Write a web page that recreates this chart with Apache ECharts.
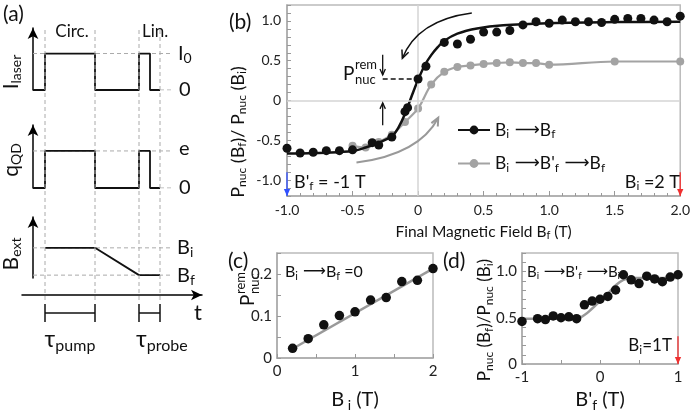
<!DOCTYPE html>
<html><head><meta charset="utf-8">
<script src="https://cdn.jsdelivr.net/npm/echarts@6/dist/echarts.min.js"></script>
<style>html,body{margin:0;padding:0;background:#fff}#c{width:693px;height:413px}</style>
</head><body><div id="c"></div>
<script>
// ---------- Panel (a): schematic timing traces ----------
const tPulse = [0, 12, 12, 62, 62, 106, 106, 117, 117, 127];
const laserLevel = [0, 0, 1, 1, 0, 0, 1, 1, 0, 0];
const qdLevel = [0, 0, 1, 1, 0, 0, 1, 1, 0, 0];
const tField = [12, 62, 106, 127];
const fieldLevel = [0.84, 0.84, 0.08, 0.08];
const tGuides = [12, 62, 106, 127];
const guideEnd = 140;

// ---------- Panel (b) ----------
const bBlackX = [-1.0,-0.9,-0.8,-0.7,-0.6,-0.5,-0.35,-0.3,-0.2,-0.1,-0.08,0,0.06,0.2,0.3,0.4,0.5,0.6,0.7,0.8,0.9,1.0,1.1,1.2,1.3,1.4,1.5,1.6,1.7,1.8,1.9,2.0];
const bBlackY = [-0.60,-0.66,-0.65,-0.63,-0.63,-0.62,-0.53,-0.56,-0.46,-0.14,-0.09,0.27,0.43,0.73,0.71,0.77,0.86,0.86,0.88,0.95,0.99,0.97,1.01,0.99,0.99,0.98,1.02,1.03,1.03,1.01,0.99,1.06];
const bFitX = [-1.0,-0.7,-0.5,-0.4,-0.3,-0.2,-0.15,-0.1,-0.05,0,0.05,0.1,0.15,0.2,0.3,0.45,0.65,1.0,1.5,2.0];
const bFitY = [-0.665,-0.655,-0.635,-0.59,-0.53,-0.45,-0.34,-0.17,0.05,0.26,0.44,0.57,0.67,0.75,0.84,0.905,0.945,0.97,0.985,0.99];
const bGrayX = [-0.5,-0.4,-0.3,-0.2,-0.1,0,0.1,0.2,0.3,0.4,0.5,0.6,0.7,0.8,0.9,1.0,1.5,2.0];
const bGrayY = [-0.57,-0.59,-0.52,-0.43,-0.27,-0.10,0.20,0.36,0.42,0.44,0.46,0.47,0.48,0.47,0.47,0.45,0.49,0.49];

// ---------- Panel (c) ----------
const cX = [0.2,0.4,0.6,0.8,1.0,1.2,1.4,1.6,1.8,2.0];
const cY = [0.023,0.046,0.079,0.101,0.110,0.138,0.144,0.182,0.185,0.213];
const cFitX = [0.2, 2.0];
const cFitY = [0.022, 0.213];

// ---------- Panel (d) ----------
const dX = [-1.0,-0.8,-0.7,-0.6,-0.5,-0.4,-0.3,-0.2,-0.1,0,0.1,0.2,0.3,0.4,0.5,0.6,0.7,0.8,0.9,1.0];
const dY = [0.46,0.49,0.48,0.52,0.50,0.51,0.49,0.64,0.68,0.70,0.73,0.80,0.965,0.91,0.87,0.95,0.92,0.89,0.94,0.965];
const dFitX = [-1.0,-0.3,-0.2,-0.1,0,0.1,0.2,0.3,0.4,1.0];
const dFitY = [0.49,0.49,0.53,0.60,0.68,0.76,0.85,0.91,0.93,0.93];

const zip = (xs, ys) => xs.map((x, i) => [x, ys[i]]);
const F = "Lato, 'Open Sans', 'DejaVu Sans', sans-serif";
const INK = '#111';

function rich(fs, color) {
  color = color || INK;
  const ss = Math.round(fs * 0.68);
  return {
    n: {fontSize: fs, fontFamily: F, color: color, fill: color},
    s: {fontSize: ss, fontFamily: F, color: color, fill: color, padding: [Math.round(fs * 0.5), 0, 0, 0]},
    u: {fontSize: ss, fontFamily: F, color: color, fill: color, padding: [0, 0, Math.round(fs * 0.5), 0]},
    a: {fontSize: fs, fontFamily: 'DejaVu Sans', color: color, fill: color}
  };
}

const chart = echarts.init(document.getElementById('c'), null, {renderer: 'canvas'});

const hiddenX = (g) => ({gridIndex: g, type: 'value', min: 0, max: 169, show: false});
const arrowY = (g) => ({gridIndex: g, type: 'value', min: 0, max: 1.7,
  axisLine: {show: true, onZero: false, symbol: ['none', 'arrow'], symbolSize: [8, 11], lineStyle: {color: '#000', width: 1.5}},
  axisTick: {show: false}, axisLabel: {show: false}, splitLine: {show: false}});
const guideSeries = (g, lv, from) => ({type: 'line', xAxisIndex: g, yAxisIndex: g, data: [[from, lv], [guideEnd, lv]],
  symbol: 'none', silent: true, z: 1, lineStyle: {type: [4, 3], color: '#aaa', width: 1}});

const tickLab = {fontSize: 14, color: '#222', fontFamily: F};
const axLine = {onZero: false, lineStyle: {color: '#aaa', width: 1.5}};
const tk = {inside: true, length: 4, lineStyle: {color: '#999'}};

const fmtB_y = v => { const r = Math.round(v * 10); return r % 5 ? '' : (r === 0 ? '0' : (r / 10).toFixed(1)); };
const fmtB_x = v => { const r = Math.round(v * 10); return r === 0 ? '0' : (r / 10).toFixed(1); };
const fmtC_y = v => { const r = Math.round(v * 100); return r % 10 ? '' : (r === 0 ? '0' : (r / 100).toFixed(1)); };
const fmtD_y = v => { const r = Math.round(v * 10); return r % 5 ? '' : (r === 0 ? '0' : (r / 10).toFixed(1)); };

const L1 = 'Bi-Bf', L2 = 'Bi-Bf\'-Bf';
const legendText = {
  [L1]: '{n|B}{s|i}{a| \u27F6}{n|B}{s|f}',
  [L2]: "{n|B}{s|i}{a| \u27F6}{n|B'}{s|f}{a| \u27F6}{n|B}{s|f}"
};

const option = {
  animation: false,
  backgroundColor: '#fff',
  grid: [
    {left: 33, top: 28, width: 169, height: 62},
    {left: 33, top: 125, width: 169, height: 63},
    {left: 33, top: 217, width: 169, height: 61},
    {left: 22, top: 290, width: 180, height: 5},
    {left: 287, top: 5, width: 396, height: 191, show: true, borderColor: '#bbb', borderWidth: 1.5},
    {left: 277, top: 253, width: 156, height: 115, show: true, borderColor: '#bbb', borderWidth: 1.5},
    {left: 522, top: 253, width: 156, height: 116, show: true, borderColor: '#bbb', borderWidth: 1.5}
  ],
  xAxis: [
    hiddenX(0), hiddenX(1), hiddenX(2),
    {gridIndex: 3, type: 'value', min: 0, max: 180,
      axisLine: {show: true, onZero: false, symbol: ['none', 'arrow'], symbolSize: [8, 11], lineStyle: {color: '#000', width: 1.5}},
      axisTick: {show: false}, axisLabel: {show: false}, splitLine: {show: false}},
    {gridIndex: 4, type: 'value', min: -1, max: 2, interval: 0.5, axisLine: axLine, axisTick: {inside: true, length: 5, lineStyle: {color: '#999'}},
      minorTick: {show: true, splitNumber: 5, length: 3, lineStyle: {color: '#999'}}, splitLine: {show: false},
      axisLabel: Object.assign({formatter: fmtB_x, margin: 7}, tickLab),
      name: '{n|Final Magnetic Field B}{s|f}{n| (T)}', nameLocation: 'middle', nameGap: 26,
      nameTextStyle: {rich: rich(15.5)}},
    {gridIndex: 5, type: 'value', min: 0, max: 2, interval: 1, axisLine: axLine, axisTick: tk,
      minorTick: {show: true, splitNumber: 2, length: 4, lineStyle: {color: '#999'}}, splitLine: {show: false},
      axisLabel: Object.assign({margin: 6}, tickLab, {fontSize: 15}),
      name: '{n|B}{s| i}{n| (T)}', nameLocation: 'middle', nameGap: 30, nameTextStyle: {rich: rich(20)}},
    {gridIndex: 6, type: 'value', min: -1, max: 1, interval: 1, axisLine: axLine, axisTick: tk,
      minorTick: {show: true, splitNumber: 2, length: 4, lineStyle: {color: '#999'}}, splitLine: {show: false},
      axisLabel: Object.assign({margin: 6}, tickLab, {fontSize: 15}),
      name: "{n|B'}{s|f}{n| (T)}", nameLocation: 'middle', nameGap: 24, nameTextStyle: {rich: rich(20)}}
  ],
  yAxis: [
    arrowY(0), arrowY(1), arrowY(2),
    {gridIndex: 3, type: 'value', min: 0, max: 1, show: false},
    {gridIndex: 4, type: 'value', min: -1.2, max: 1.2, interval: 0.1, axisLine: axLine, axisTick: tk, splitLine: {show: false},
      axisLabel: Object.assign({formatter: fmtB_y, margin: 6}, tickLab)},
    {gridIndex: 5, type: 'value', min: 0, max: 0.25, interval: 0.05, axisLine: axLine, axisTick: tk, splitLine: {show: false},
      axisLabel: Object.assign({formatter: fmtC_y, margin: 5}, tickLab, {fontSize: 15})},
    {gridIndex: 6, type: 'value', min: 0, max: 1.2, interval: 0.1, axisLine: axLine, axisTick: tk, splitLine: {show: false},
      axisLabel: Object.assign({formatter: fmtD_y, margin: 5}, tickLab, {fontSize: 15})}
  ],
  legend: {
    data: [L1, L2], orient: 'vertical', left: 452, top: 116, itemWidth: 32, itemHeight: 11, itemGap: 14,
    formatter: n => legendText[n], textStyle: {rich: rich(17.5)}, selectedMode: false
  },
  series: [
    guideSeries(0, 1, 0), guideSeries(0, 0, 127),
    guideSeries(1, 1, 0), guideSeries(1, 0, 127),
    guideSeries(2, fieldLevel[0], 0), guideSeries(2, fieldLevel[3], 0),
    {type: 'line', xAxisIndex: 0, yAxisIndex: 0, data: zip(tPulse, laserLevel), symbol: 'none', lineStyle: {color: INK, width: 1.8}, z: 3},
    {type: 'line', xAxisIndex: 1, yAxisIndex: 1, data: zip(tPulse, qdLevel), symbol: 'none', lineStyle: {color: INK, width: 1.8}, z: 3},
    {type: 'line', xAxisIndex: 2, yAxisIndex: 2, data: zip(tField, fieldLevel), symbol: 'none', lineStyle: {color: INK, width: 1.8}, z: 3},
    // panel b reference lines
    {type: 'line', xAxisIndex: 4, yAxisIndex: 4, data: [], z: 1,
      markLine: {symbol: 'none', silent: true, label: {show: false}, lineStyle: {type: 'solid', color: '#d4d4d4', width: 1.5},
        data: [{xAxis: 0}, {yAxis: 0}]}},
    {name: L2, type: 'line', xAxisIndex: 4, yAxisIndex: 4, data: zip(bGrayX, bGrayY), smooth: 0.35,
      symbol: 'circle', symbolSize: 8, itemStyle: {color: '#a3a3a3'}, lineStyle: {color: '#a3a3a3', width: 2.2}, z: 3},
    {name: L1, type: 'line', xAxisIndex: 4, yAxisIndex: 4, data: zip(bFitX, bFitY), smooth: 0.35,
      symbol: 'circle', showSymbol: false, symbolSize: 9, itemStyle: {color: INK}, lineStyle: {color: INK, width: 2.5}, z: 4},
    {type: 'scatter', xAxisIndex: 4, yAxisIndex: 4, data: zip(bBlackX, bBlackY), symbolSize: 9, itemStyle: {color: INK, opacity: 1}, z: 5},
    // panel c
    {type: 'line', xAxisIndex: 5, yAxisIndex: 5, data: zip(cFitX, cFitY), symbol: 'none', lineStyle: {color: '#999', width: 2.5}, z: 3},
    {type: 'scatter', xAxisIndex: 5, yAxisIndex: 5, data: zip(cX, cY), symbolSize: 9.5, itemStyle: {color: INK, opacity: 1}, z: 5},
    // panel d
    {type: 'line', xAxisIndex: 6, yAxisIndex: 6, data: zip(dFitX, dFitY), smooth: 0.4, symbol: 'none', lineStyle: {color: '#999', width: 2.5}, z: 3},
    {type: 'scatter', xAxisIndex: 6, yAxisIndex: 6, data: zip(dX, dY), symbolSize: 9.5, itemStyle: {color: INK, opacity: 1}, z: 5}
  ]
};
chart.setOption(option);

// ---------- annotations anchored via the axes ----------
const P = (g, pt) => chart.convertToPixel({xAxisIndex: g, yAxisIndex: g}, pt);
const G = [];
function txt(text, x, y, fs, align, rot, color) {
  const r = rich(fs, color);
  G.push({type: 'text', x: x, y: y, rotation: rot || 0, z: 50,
    style: {text: text, rich: r, align: align || 'left', verticalAlign: 'middle', font: fs + 'px ' + F, fill: color || INK}});
}
function seg(p0, p1, color, w, dash) {
  G.push({type: 'line', z: 40, shape: {x1: p0[0], y1: p0[1], x2: p1[0], y2: p1[1]},
    style: {stroke: color, lineWidth: w, lineDash: dash || null}});
}
function head(tip, from, color, size, filled, w) {
  const dx = tip[0] - from[0], dy = tip[1] - from[1];
  const len = Math.hypot(dx, dy), ux = dx / len, uy = dy / len;
  const bx = tip[0] - ux * size, by = tip[1] - uy * size;
  const half = size * 0.45;
  const l = [bx - uy * half, by + ux * half], r = [bx + uy * half, by - ux * half];
  if (filled) G.push({type: 'polygon', z: 41, shape: {points: [tip, l, r]}, style: {fill: color}});
  else G.push({type: 'polyline', z: 41, shape: {points: [l, tip, r]}, style: {stroke: color, lineWidth: w || 1.5, fill: null}});
}
function arrow(p0, p1, color, w, size, filled) { seg(p0, p1, color, w); head(p1, p0, color, size, filled, w); }
function curve(p0, c, p1, color, w, size) {
  G.push({type: 'bezierCurve', z: 40, shape: {x1: p0[0], y1: p0[1], cpx1: c[0], cpy1: c[1], x2: p1[0], y2: p1[1]},
    style: {stroke: color, lineWidth: w, fill: null}});
  head(p1, c, color, size, false, w);
}

// Panel (a)
txt('(a)', 3, 14, 21);
tGuides.forEach(t => { const x = P(0, [t, 0])[0]; seg([x, 30], [x, 301], '#aaa', 1, [4, 3]); });
const xr = P(0, [guideEnd + 4, 0])[0];
txt('{n|I}{s|0}', xr + 1, P(0, [0, 1])[1], 20);
txt('0', xr + 2, P(0, [0, 0])[1], 20);
txt('e', xr + 2, P(1, [0, 1])[1] - 2, 20);
txt('0', xr + 2, P(1, [0, 0])[1], 20);
txt('{n|B}{s|i}', xr, P(2, [0, fieldLevel[0]])[1], 20);
txt('{n|B}{s|f}', xr, P(2, [0, fieldLevel[3]])[1], 20);
txt('Circ.', P(0, [(tGuides[0] + tGuides[1]) / 2 + 2, 0])[0], 32, 17, 'center');
txt('Lin.', P(0, [tGuides[2] + 3, 0])[0], 32, 17, 'left');
txt('{n|I}{s|laser}', 11, 72, 21, 'center', Math.PI / 2);
txt('{n|q}{s|QD}', 11, 160, 21, 'center', Math.PI / 2);
txt('{n|B}{s|ext}', 11, 254, 21, 'center', Math.PI / 2);
[[tGuides[0], tGuides[1]], [tGuides[2], tGuides[3]]].forEach(([a, b]) => {
  const xa = P(0, [a, 0])[0], xb = P(0, [b, 0])[0];
  seg([xa, 313], [xb, 313], INK, 1.5); seg([xa, 304], [xa, 322], INK, 1.5); seg([xb, 304], [xb, 322], INK, 1.5);
});
txt('{n|\u03C4}{s|pump}', P(0, [(tGuides[0] + tGuides[1]) / 2, 0])[0], 340, 23, 'center');
txt('{n|\u03C4}{s|probe}', P(0, [tGuides[2] - 3, 0])[0], 340, 23, 'left');
txt('t', 198, 313, 22, 'center');

// Panel (b)
txt('(b)', 229, 22, 21);
txt('{n|P}{s|nuc}{n| (B}{s|f}{n|)/ P}{s|nuc}{n| (B}{s|i}{n|)}', 238, 132, 18, 'center', Math.PI / 2);
txt('P', 343, 74, 19);
txt('rem', 355, 65, 13);
txt('nuc', 355, 80, 13);
arrow(P(4, [-0.27, 0.575]), P(4, [-0.27, 0.32]), INK, 1.3, 6, false);
seg(P(4, [-0.27, 0.27]), P(4, [0, 0.27]), INK, 1.3, [5, 3]);
arrow(P(4, [-0.27, -0.31]), P(4, [-0.27, -0.03]), INK, 1.3, 6, false);
curve(P(4, [0.41, 1.1]), P(4, [-0.005, 1.01]), P(4, [-0.12, 0.53]), INK, 1.5, 8);
curve(P(4, [-0.47, -0.78]), P(4, [0.01, -0.675]), P(4, [0.154, -0.216]), '#999', 2, 8);
txt("{n|B'}{s|f}{n| = -1 T}", 294, 182, 18);
txt('{n|B}{s|i}{n| =2 T}', 680, 182, 18, 'right');
arrow(P(4, [-1, -0.9]), P(4, [-1, -1.2]), '#3050ff', 1.3, 7, true);
arrow(P(4, [2, -0.9]), P(4, [2, -1.2]), '#f03030', 1.3, 7, true);

// Panel (c)
txt('(c)', 228, 261, 21);
txt('{n|B}{s|i}{a| \u27F6}{n|B}{s|f}{n| =0}', 285, 272, 16);
G.push({type: 'group', x: 248, y: 290, rotation: Math.PI / 2, z: 50, children: [
  {type: 'text', x: -16, y: 0, style: {text: 'P', font: '19px ' + F, fill: INK, align: 'left', verticalAlign: 'middle'}},
  {type: 'text', x: -4, y: -7, style: {text: 'rem', font: '13px ' + F, fill: INK, align: 'left', verticalAlign: 'middle'}},
  {type: 'text', x: -4, y: 7, style: {text: 'nuc', font: '13px ' + F, fill: INK, align: 'left', verticalAlign: 'middle'}}
]});

// Panel (d)
txt('(d)', 443, 261, 21);
txt("{n|B}{s|i}{a| \u27F6}{n|B'}{s|f}{a| \u27F6}{n|B}{s|i}", 527, 272, 15);
txt('{n|P}{s|nuc}{n| (B}{s|f}{n|)/P}{s|nuc}{n| (B}{s|i}{n|)}', 485, 320, 17, 'center', Math.PI / 2);
txt('{n|B}{s|i}{n|=1T}', 672, 346, 17, 'right');
arrow(P(6, [1, 0.3]), P(6, [1, 0]), '#f03030', 1.3, 7, true);

chart.setOption({graphic: G});
</script></body></html>
